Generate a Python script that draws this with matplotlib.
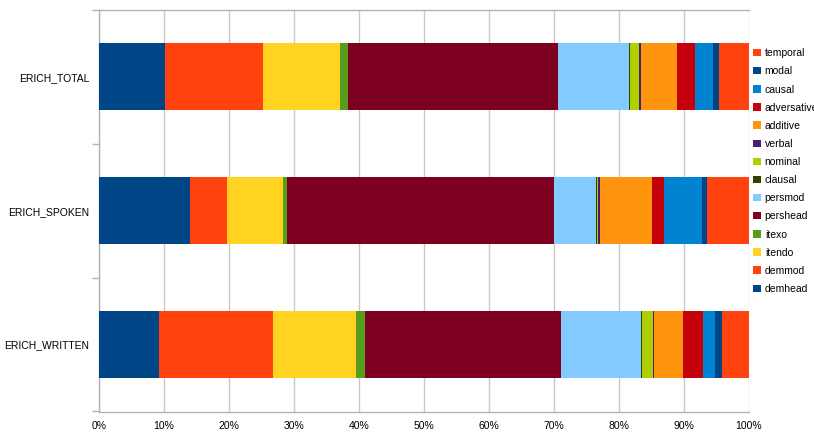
import matplotlib
matplotlib.use("Agg")
import matplotlib.pyplot as plt
from matplotlib.ticker import FuncFormatter, FixedLocator
import numpy as np

plt.rcParams['font.family'] = ['Liberation Sans', 'DejaVu Sans']

categories = ["ERICH_TOTAL", "ERICH_SPOKEN", "ERICH_WRITTEN"]
series_names = ["demhead", "demmod", "itendo", "itexo", "pershead", "persmod",
                "clausal", "nominal", "verbal", "additive", "adversative",
                "causal", "modal", "temporal"]

# percentage shares per category (TOTAL, SPOKEN, WRITTEN)
demhead = [10.2, 14.0, 9.3]
demmod = [15.0, 5.7, 17.5]
itendo = [11.8, 8.6, 12.7]
itexo = [1.2, 0.6, 1.4]
pershead = [32.3, 41.1, 30.1]
persmod = [11.0, 6.6, 12.4]
clausal = [0.1, 0.1, 0.1]
nominal = [1.4, 0.1, 1.7]
verbal = [0.3, 0.3, 0.2]
additive = [5.5, 8.0, 4.5]
adversative = [2.8, 1.9, 3.0]
causal = [2.7, 5.8, 1.9]
modal = [1.0, 0.8, 1.1]
temporal = [4.6, 6.5, 4.1]

series_values = [demhead, demmod, itendo, itexo, pershead, persmod, clausal,
                 nominal, verbal, additive, adversative, causal, modal, temporal]

colors = ["#004586", "#ff420e", "#ffd320", "#579d1c", "#7e0021", "#83caff",
          "#314004", "#aecf00", "#4b1f6f", "#ff950e", "#c5000b", "#0084d1",
          "#004586", "#ff420e"]

x_ticks = [0, 10, 20, 30, 40, 50, 60, 70, 80, 90, 100]

fig = plt.figure(figsize=(8.14, 4.33), dpi=100)
ax = fig.add_axes([99 / 814, 21.5 / 433, 650 / 814, 401.5 / 433])

data = np.array(series_values, dtype=float)
shares = data / data.sum(axis=0) * 100
y = np.arange(len(categories))
left = np.zeros(len(categories))
handles = []
for name, vals, col in zip(series_names, shares, colors):
    h = ax.barh(y, vals, left=left, height=0.5, color=col, label=name,
                edgecolor="none", zorder=3)
    handles.append(h)
    left += vals

ax.set_xlim(0, 100)
ax.set_ylim(len(categories) - 0.5, -0.5)
ax.xaxis.set_major_locator(FixedLocator(x_ticks))
ax.xaxis.set_major_formatter(FuncFormatter(lambda v, p: f"{int(v)}%"))
ax.set_yticks(y)
ax.set_yticklabels(categories)
ax.yaxis.set_minor_locator(FixedLocator(np.arange(-0.5, len(categories), 1.0)))

ax.grid(axis="x", color="#c8c8c8", linewidth=1, zorder=0)
ax.spines["right"].set_visible(False)
for s in ["left", "bottom", "top"]:
    ax.spines[s].set_color("#b3b3b3")
    ax.spines[s].set_linewidth(1)

ax.tick_params(axis="x", length=0, pad=7, labelsize=7.5, labelcolor="#000000")
ax.tick_params(axis="y", which="major", length=0, pad=7, labelsize=7.5)
ax.tick_params(axis="y", which="minor", length=5, color="#b3b3b3", width=1)

leg = fig.legend(handles[::-1], series_names[::-1], loc="upper left",
                 bbox_to_anchor=(746 / 814, 1 - 41 / 433), frameon=False,
                 fontsize=7.5, handlelength=0.7, handleheight=0.7,
                 handletextpad=0.4, labelspacing=0.78, borderpad=0.2)

fig.savefig("out.png", dpi=100)
